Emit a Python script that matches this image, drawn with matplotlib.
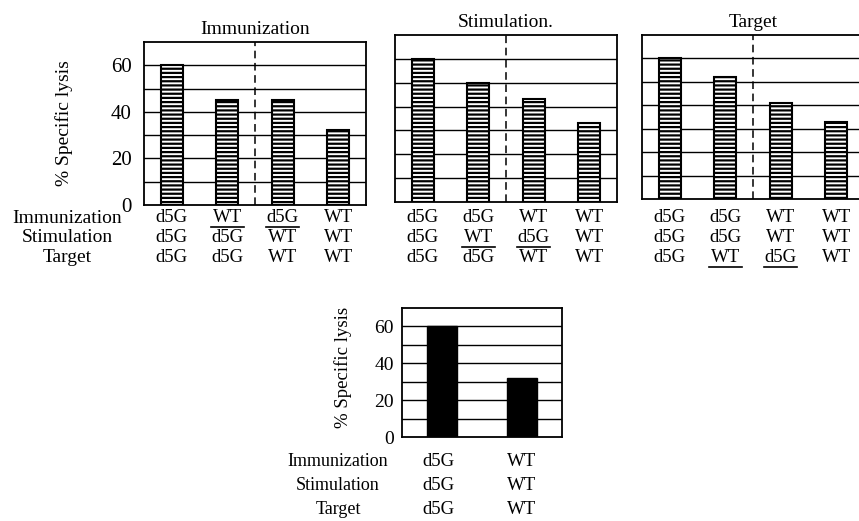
import matplotlib
matplotlib.use("Agg")
import matplotlib.pyplot as plt
from matplotlib.transforms import Affine2D

plt.rcParams["font.family"] = ["Liberation Serif", "DejaVu Serif"]
plt.rcParams["hatch.linewidth"] = 1.6
plt.rcParams["hatch.color"] = "black"

# top three panels
titles = ["Immunization", "Stimulation.", "Target"]
row_names = ["Immunization", "Stimulation", "Target"]
lysis = [
    [60, 45, 45, 32],
    [60, 50, 43, 33],
    [60, 52, 41, 33],
]
# labels per panel: rows = immunization, stimulation, target
panel_labels = [
    [["d5G", "WT", "d5G", "WT"], ["d5G", "d5G", "WT", "WT"], ["d5G", "d5G", "WT", "WT"]],
    [["d5G", "d5G", "WT", "WT"], ["d5G", "WT", "d5G", "WT"], ["d5G", "d5G", "WT", "WT"]],
    [["d5G", "d5G", "WT", "WT"], ["d5G", "d5G", "WT", "WT"], ["d5G", "WT", "d5G", "WT"]],
]
# which row is underlined (cols 1 and 2) in each panel
underlined_row = [0, 1, 2]
underlined_cols = [1, 2]

# bottom panel
bottom_lysis = [60, 32]
bottom_labels = [["d5G", "WT"], ["d5G", "WT"], ["d5G", "WT"]]

yticks = [0, 20, 40, 60]
grid_levels = [10, 20, 30, 40, 50, 60]

W, H = 859, 521
fig = plt.figure(figsize=(W / 100, H / 100), dpi=100)


def px_axes(x0, y0, x1, y1):
    return fig.add_axes([x0 / W, 1 - y1 / H, (x1 - x0) / W, (y1 - y0) / H])


def style(ax, n):
    ax.set_ylim(0, 70)
    ax.set_xlim(-0.5, n - 0.5)
    for lv in grid_levels:
        ax.axhline(lv, color="black", lw=1.0, zorder=1)
    ax.set_xticks([])
    ax.set_yticks(yticks)
    ax.tick_params(axis="y", length=0, pad=9, labelsize=15)
    for s in ax.spines.values():
        s.set_linewidth(1.3)


boxes = [(144, 42, 366, 205), (395, 35, 617, 202), (642, 35, 864, 199)]
row_y = [218, 238, 258]  # pixel rows of the condition table
for k, (box, vals, labs) in enumerate(zip(boxes, lysis, panel_labels)):
    ax = px_axes(*box)
    x = range(len(vals))
    style(ax, len(vals))
    ax.bar(x, vals, width=0.39, color="white", edgecolor="black",
           hatch="----", lw=1.5, zorder=2)
    ax.axvline(1.5, color="black", lw=1.1, ls=(0, (5, 3)), zorder=3)
    ax.set_title(titles[k], fontsize=14, pad=6)
    if k == 0:
        ax.set_ylabel("% Specific lysis", fontsize=14)
        ax.yaxis.set_label_coords(-0.32, 0.5)
    else:
        ax.set_yticklabels([])
    for r, row in enumerate(labs):
        off = row_y[r] - box[3]
        for i, t in enumerate(row):
            ax.annotate(t, xy=(i, 0), xycoords=("data", "axes fraction"),
                        xytext=(0, -off), textcoords="offset pixels",
                        ha="center", va="center", fontsize=13.5,
                        annotation_clip=False)
            if r == underlined_row[k] and i in underlined_cols:
                ax.plot([i - 0.3, i + 0.3], [0, 0], color="black", lw=1.2,
                        clip_on=False,
                        transform=ax.get_xaxis_transform()
                        + Affine2D().translate(0, -off - 9))

for r, name in enumerate(row_names):
    fig.text(67 / W, 1 - row_y[r] / H, name, ha="center", va="center",
             fontsize=14)

# bottom panel
ax4 = px_axes(402, 308, 562, 437)
style(ax4, len(bottom_lysis))
ax4.bar(range(len(bottom_lysis)), bottom_lysis, width=0.38, color="black",
        edgecolor="black", zorder=2)
ax4.tick_params(axis="y", labelsize=14, pad=6)
ax4.set_ylabel("% Specific lysis", fontsize=13.5)
ax4.yaxis.set_label_coords(-0.31, 0.54)
b_off = [24, 48, 72]
for r, row in enumerate(bottom_labels):
    for i, t in enumerate(row):
        ax4.annotate(t, xy=(i, 0), xycoords=("data", "axes fraction"),
                     xytext=(-4 if i == 0 else 0, -b_off[r]), textcoords="offset pixels",
                     ha="center", va="center", fontsize=13.5,
                     annotation_clip=False)
    fig.text(338 / W, 1 - (437 + b_off[r]) / H, row_names[r], ha="center",
             va="center", fontsize=13)

fig.savefig("out.png", dpi=100)
